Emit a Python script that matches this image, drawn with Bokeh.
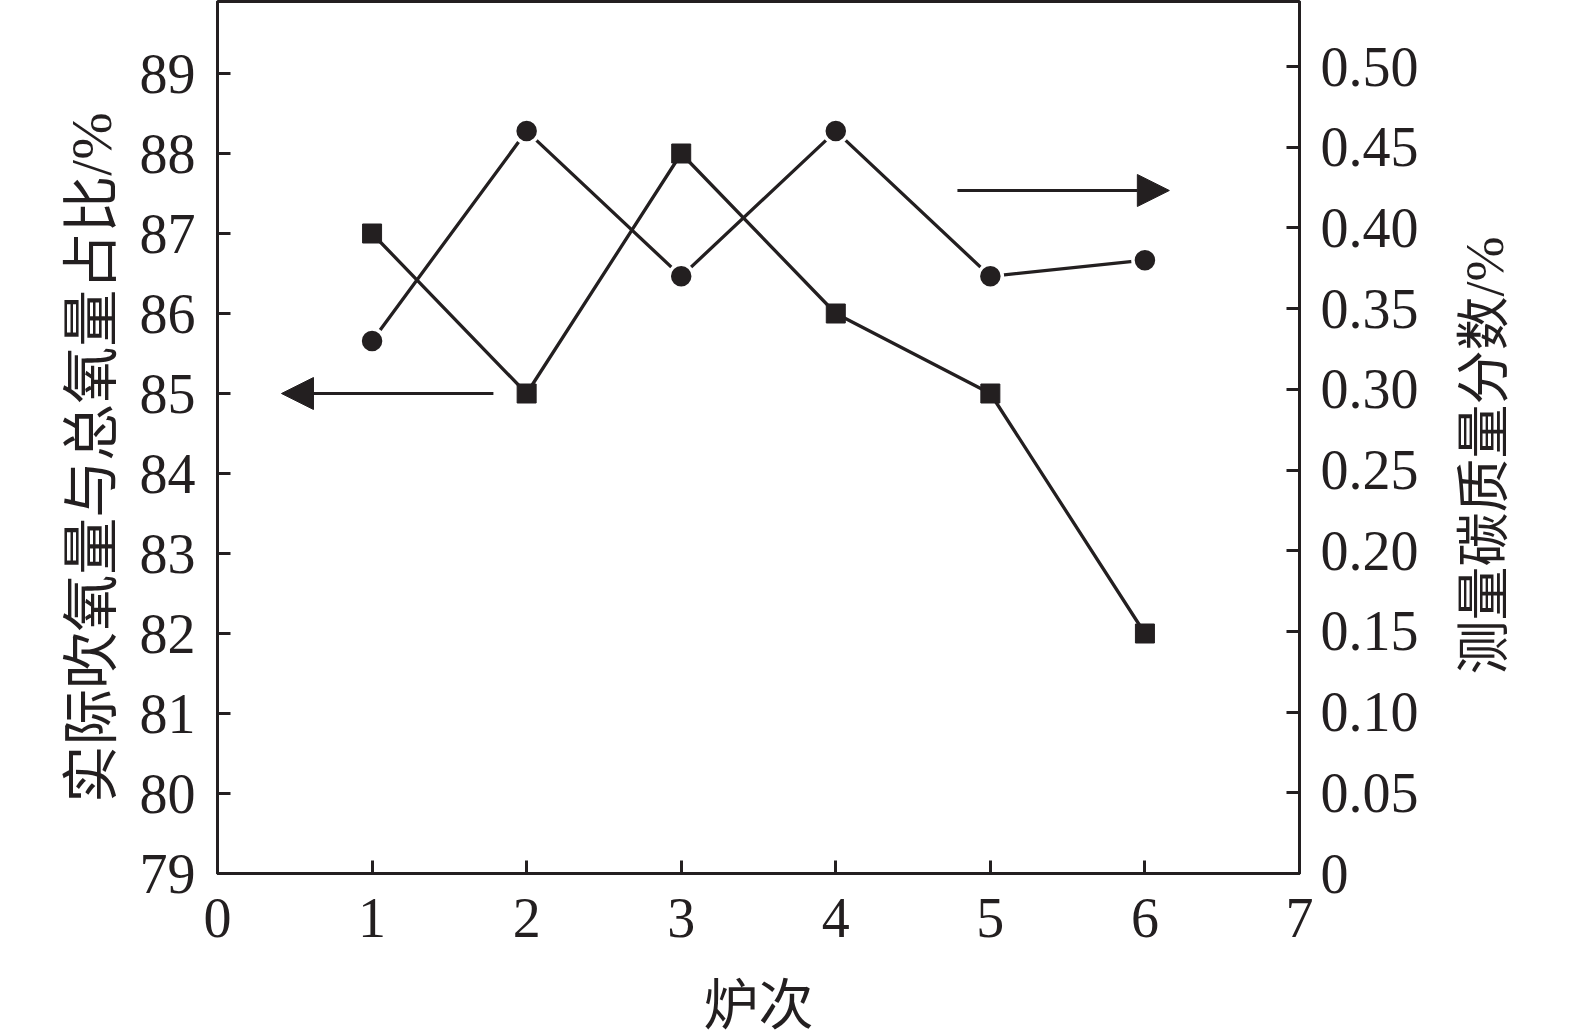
import math
from bokeh.plotting import figure
from bokeh.layouts import row
from bokeh.models import (Range1d, LinearAxis, FixedTicker, CustomJSTickFormatter,
                          Arrow, NormalHead, Label)
from bokeh.embed import file_html
from bokeh.resources import INLINE

# ---- data ----
furnace = [1, 2, 3, 4, 5, 6]
oxygen_ratio = [87, 85, 88, 86, 85, 82]          # left axis, %
carbon = [0.33, 0.46, 0.37, 0.46, 0.37, 0.38]    # right axis, %

x_ticks = [0, 1, 2, 3, 4, 5, 6, 7]
left_ticks = [79, 80, 81, 82, 83, 84, 85, 86, 87, 88, 89]
right_ticks = [0, 0.05, 0.1, 0.15, 0.2, 0.25, 0.3, 0.35, 0.4, 0.45, 0.5]

x_label = "炉次"
left_label = "实际吹氧量与总氧量占比/%"
right_label = "测量碳质量分数/%"

# arrows (data coords)
left_arrow = dict(x_start=1.785, x_end=0.414, y=85.0)      # left-axis units
right_arrow = dict(x_start=4.787, x_end=6.158, y=0.4232)   # right-axis units

INK = "#231f20"
SERIF = "Liberation Serif, Noto Sans CJK SC"
TICK_FS = "56px"
FRAME_H = 872
TOP, BOTTOM = 1, 147
STRIP_L, MAIN_BL, MAIN_FW, MAIN_BR, STRIP_R = 135, 82, 1082, 125, 135

# ---------------- main plot ----------------
p = figure(frame_width=MAIN_FW, frame_height=FRAME_H, output_backend="svg",
           toolbar_location=None,
           x_range=Range1d(0, 7), y_range=Range1d(79, 89.9),
           min_border_left=MAIN_BL, min_border_right=MAIN_BR, min_border_top=TOP,
           min_border_bottom=BOTTOM)
p.extra_y_ranges = {"c": Range1d(0, 0.5403)}
p.grid.visible = False
p.outline_line_color = INK
p.outline_line_width = 3
p.background_fill_color = "white"
p.border_fill_color = "white"

def style_axis(ax, standoff):
    ax.axis_line_color = INK
    ax.axis_line_width = 3
    ax.major_tick_line_color = INK
    ax.major_tick_line_width = 3
    ax.major_tick_in = 13
    ax.major_tick_out = 0
    ax.minor_tick_line_color = None
    ax.major_label_text_font = SERIF
    ax.major_label_text_font_size = TICK_FS
    ax.major_label_text_color = INK
    ax.major_label_standoff = standoff

xa = p.xaxis[0]
xa.ticker = FixedTicker(ticks=x_ticks)
style_axis(xa, 25)
xa.axis_label = x_label
xa.axis_label_text_font = SERIF
xa.axis_label_text_font_size = "55px"
xa.axis_label_text_font_style = "normal"
xa.axis_label_text_color = INK
xa.axis_label_standoff = 35

ya = p.yaxis[0]
ya.ticker = FixedTicker(ticks=left_ticks)
style_axis(ya, 22)

ra = LinearAxis(y_range_name="c", ticker=FixedTicker(ticks=right_ticks),
                formatter=CustomJSTickFormatter(code="return tick == 0 ? '0' : tick.toFixed(2);"))
style_axis(ra, 21)
p.add_layout(ra, "right")

# series: oxygen ratio (squares, left axis)
p.line(furnace, oxygen_ratio, line_color=INK, line_width=3.3)
# series: carbon (circles, right axis)
p.line(furnace, carbon, line_color=INK, line_width=3.3, y_range_name="c")
p.scatter(furnace, oxygen_ratio, marker="square", size=19, fill_color=INK, line_color=INK)
p.scatter(furnace, carbon, marker="circle", size=24, fill_color=INK, line_color="white",
          line_width=3.5, y_range_name="c")

# arrows
p.add_layout(Arrow(end=NormalHead(size=32, fill_color=INK, line_color=INK, line_width=1),
                   x_start=left_arrow["x_start"], y_start=left_arrow["y"],
                   x_end=left_arrow["x_end"], y_end=left_arrow["y"],
                   line_color=INK, line_width=3))
p.add_layout(Arrow(end=NormalHead(size=32, fill_color=INK, line_color=INK, line_width=1),
                   x_start=right_arrow["x_start"], y_start=right_arrow["y"],
                   x_end=right_arrow["x_end"], y_end=right_arrow["y"],
                   line_color=INK, line_width=3, y_range_name="c"))

# ---------------- side strips carrying the rotated axis titles ----------------
# each strip's frame spans its full width and the same rows as the main frame;
# its ranges are expressed in page pixels so the title can be placed precisely.
def title_strip(text, size, x0, width, cx, cy):
    f = figure(frame_width=width, frame_height=FRAME_H, output_backend="svg",
               toolbar_location=None,
               x_range=Range1d(x0, x0 + width), y_range=Range1d(TOP + FRAME_H, TOP),
               x_axis_location=None, y_axis_location=None,
               min_border_left=0, min_border_right=0,
               min_border_top=TOP, min_border_bottom=BOTTOM)
    f.grid.visible = False
    f.outline_line_color = None
    f.background_fill_color = "white"
    f.border_fill_color = "white"
    f.add_layout(Label(x=cx, y=cy, text=text, angle=math.pi / 2,
                       text_align="center", text_baseline="middle",
                       text_font=SERIF, text_font_size=size, text_color=INK))
    return f

main_right_edge = STRIP_L + MAIN_BL + MAIN_FW + MAIN_BR
p_left = title_strip(left_label, "57px", 0, STRIP_L, 91, 457)
p_right = title_strip(right_label, "54px", main_right_edge, STRIP_R, 1484, 455)

layout = row(p_left, p, p_right)
open("out.html", "w").write(file_html(layout, INLINE))
